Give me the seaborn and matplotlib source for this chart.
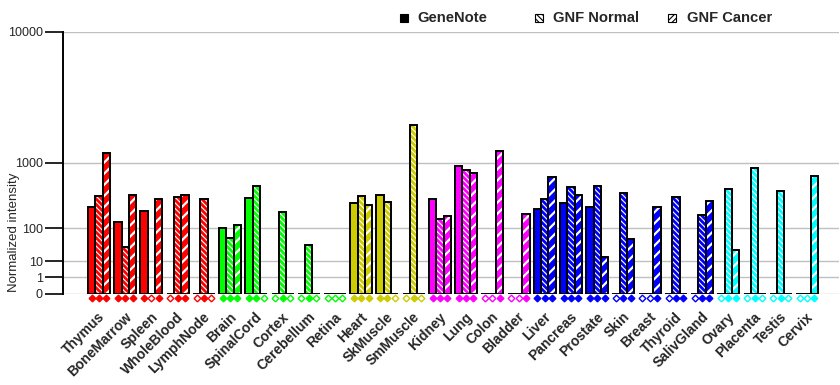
import numpy as np
import pandas as pd
import seaborn as sns
import matplotlib.pyplot as plt
import matplotlib as mpl
from matplotlib.patches import Rectangle
from matplotlib.transforms import blended_transform_factory, ScaledTranslation

sns.set_style('white')
plt.rcParams['font.family'] = ['Liberation Sans', 'DejaVu Sans']
plt.rcParams['hatch.linewidth'] = 0.8

# %%
tissues = ['Thymus', 'BoneMarrow', 'Spleen', 'WholeBlood', 'LymphNode',
           'Brain', 'SpinalCord', 'Cortex', 'Cerebellum', 'Retina',
           'Heart', 'SkMuscle', 'SmMuscle',
           'Kidney', 'Lung', 'Colon', 'Bladder',
           'Liver', 'Pancreas', 'Prostate', 'Skin', 'Breast', 'Thyroid', 'SalivGland',
           'Ovary', 'Placenta', 'Testis', 'Cervix']
group_colors = ['#ff0000'] * 5 + ['#00ff00'] * 5 + ['#cccc00'] * 3 + \
    ['#ff00ff'] * 4 + ['#0000ff'] * 7 + ['#00ffff'] * 4
sources = ['GeneNote', 'GNF Normal', 'GNF Cancer']
nan = np.nan
genenote = [256, 137, 219, nan, nan,
            101, 356, nan, nan, nan,
            298, 394, nan,
            343, 925, nan, nan,
            237, 298, 256, nan, nan, nan, nan,
            nan, nan, nan, nan]
gnf_normal = [377, 33, nan, 364, 340,
              58, 526, 211, 38, nan,
              381, 309, 2333,
              157, 826, nan, nan,
              343, 510, 526, 413, nan, 368, 186,
              479, 880, 449, nan]
gnf_cancer = [1276, 390, 340, 390, nan,
              117, nan, nan, nan, nan,
              273, nan, nan,
              176, 768, 1338, 194,
              687, 394, 15, 56, 256, 0, 320,
              27, nan, nan, 706]
yticks = [0, 1, 10, 100, 1000, 10000]

# %%
df = pd.DataFrame({'tissue': tissues * 3,
                   'source': np.repeat(sources, len(tissues)),
                   'value': genenote + gnf_normal + gnf_cancer})
df['present'] = df['value'].notna()
df['plot_value'] = df['value'].fillna(0)

fig = plt.figure(figsize=(8.4, 3.85), dpi=100)
ax = fig.add_axes([63 / 840, 1 - 294 / 385, 776 / 840, 262 / 385])

sns.barplot(data=df, x='tissue', y='plot_value', hue='source', order=tissues,
            hue_order=sources, width=0.84, errorbar=None, legend=False, ax=ax)

hatches = ['', '\\\\\\\\\\\\', '///']
hatch_lw = [0.8, 0.8, 1.6]
outlines = []
for p in list(ax.patches):
    w = p.get_width()
    c = p.get_x() + w / 2
    i = int(round(c))
    s = int(round((c - i) / w)) + 1
    p.set_facecolor(group_colors[i])
    p.set_edgecolor('white')
    p.set_linewidth(0)
    p.set_hatch(hatches[s])
    if hasattr(p, 'set_hatch_linewidth'):
        p.set_hatch_linewidth(hatch_lw[s])
    outlines.append(Rectangle((p.get_x(), 0), w, p.get_height(), fill=False,
                              edgecolor='black', lw=1.4, zorder=3))
for r in outlines:
    ax.add_patch(r)

# markers under each bar: filled = data present, open = missing
trans = blended_transform_factory(ax.transData, ax.transAxes)
offsets = [-0.28, 0.0, 0.28]
for s, src in enumerate(sources):
    sub = df[df['source'] == src].reset_index(drop=True)
    for i, row in sub.iterrows():
        col = group_colors[i]
        ax.plot(i + offsets[s], -0.014, marker='D', ms=3.4, mew=1,
                mec=col, mfc=col if row['present'] else 'white',
                transform=trans, clip_on=False, zorder=4)

# %%
ax.set_yscale('function', functions=(lambda v: np.sign(v) * np.abs(v) ** 0.3,
                                     lambda v: np.sign(v) * np.abs(v) ** (1 / 0.3)))
ax.set_ylim(0, 10000)
ax.set_xlim(-1.373, 28.22)
ax.set_yticks(yticks)
ax.set_yticklabels([str(t) for t in yticks], fontsize=9)
ax.yaxis.set_minor_locator(mpl.ticker.NullLocator())
ax.tick_params(axis='y', left=True, length=13, width=1.2, pad=1.5, color='black')
ax.tick_params(axis='x', length=0, pad=15)
ax.set_xticks(range(len(tissues)))
ax.set_xticklabels(tissues, rotation=45, ha='right', va='center',
                   rotation_mode='anchor', fontsize=10, fontweight='bold')
shift = ScaledTranslation(4 / 100, 0, fig.dpi_scale_trans)
for lbl in ax.get_xticklabels():
    lbl.set_transform(lbl.get_transform() + shift)
ax.yaxis.grid(True, color='#c0c0c0', lw=1)
ax.xaxis.grid(False)
ax.set_axisbelow(True)
for side in ['top', 'right', 'bottom']:
    ax.spines[side].set_visible(False)
ax.spines['left'].set_color('black')
ax.spines['left'].set_linewidth(1.4)
ax.set_xlabel('')
ax.set_ylabel('Normalized intensity', fontsize=9.5)
ax.yaxis.set_label_coords(-0.055, 0.237)

# legend on top, items at fixed spots like the original
leg_x = [(400, 417), (535, 553), (668, 687)]
leg_hatch = ['', '\\\\\\\\\\\\', '//////']
for (sx, tx), h, name in zip(leg_x, leg_hatch, sources):
    fig.patches.append(Rectangle((sx / 840, 1 - 22 / 385), 8 / 840, 8 / 385,
                                 transform=fig.transFigure, figure=fig,
                                 facecolor='black' if h == '' else 'white',
                                 edgecolor='black', lw=0.8, hatch=h))
    fig.text(tx / 840, 1 - 18 / 385, name, ha='left', va='center',
             fontsize=10.6, fontweight='bold')

plt.savefig('out.png', dpi=100, facecolor='white')
